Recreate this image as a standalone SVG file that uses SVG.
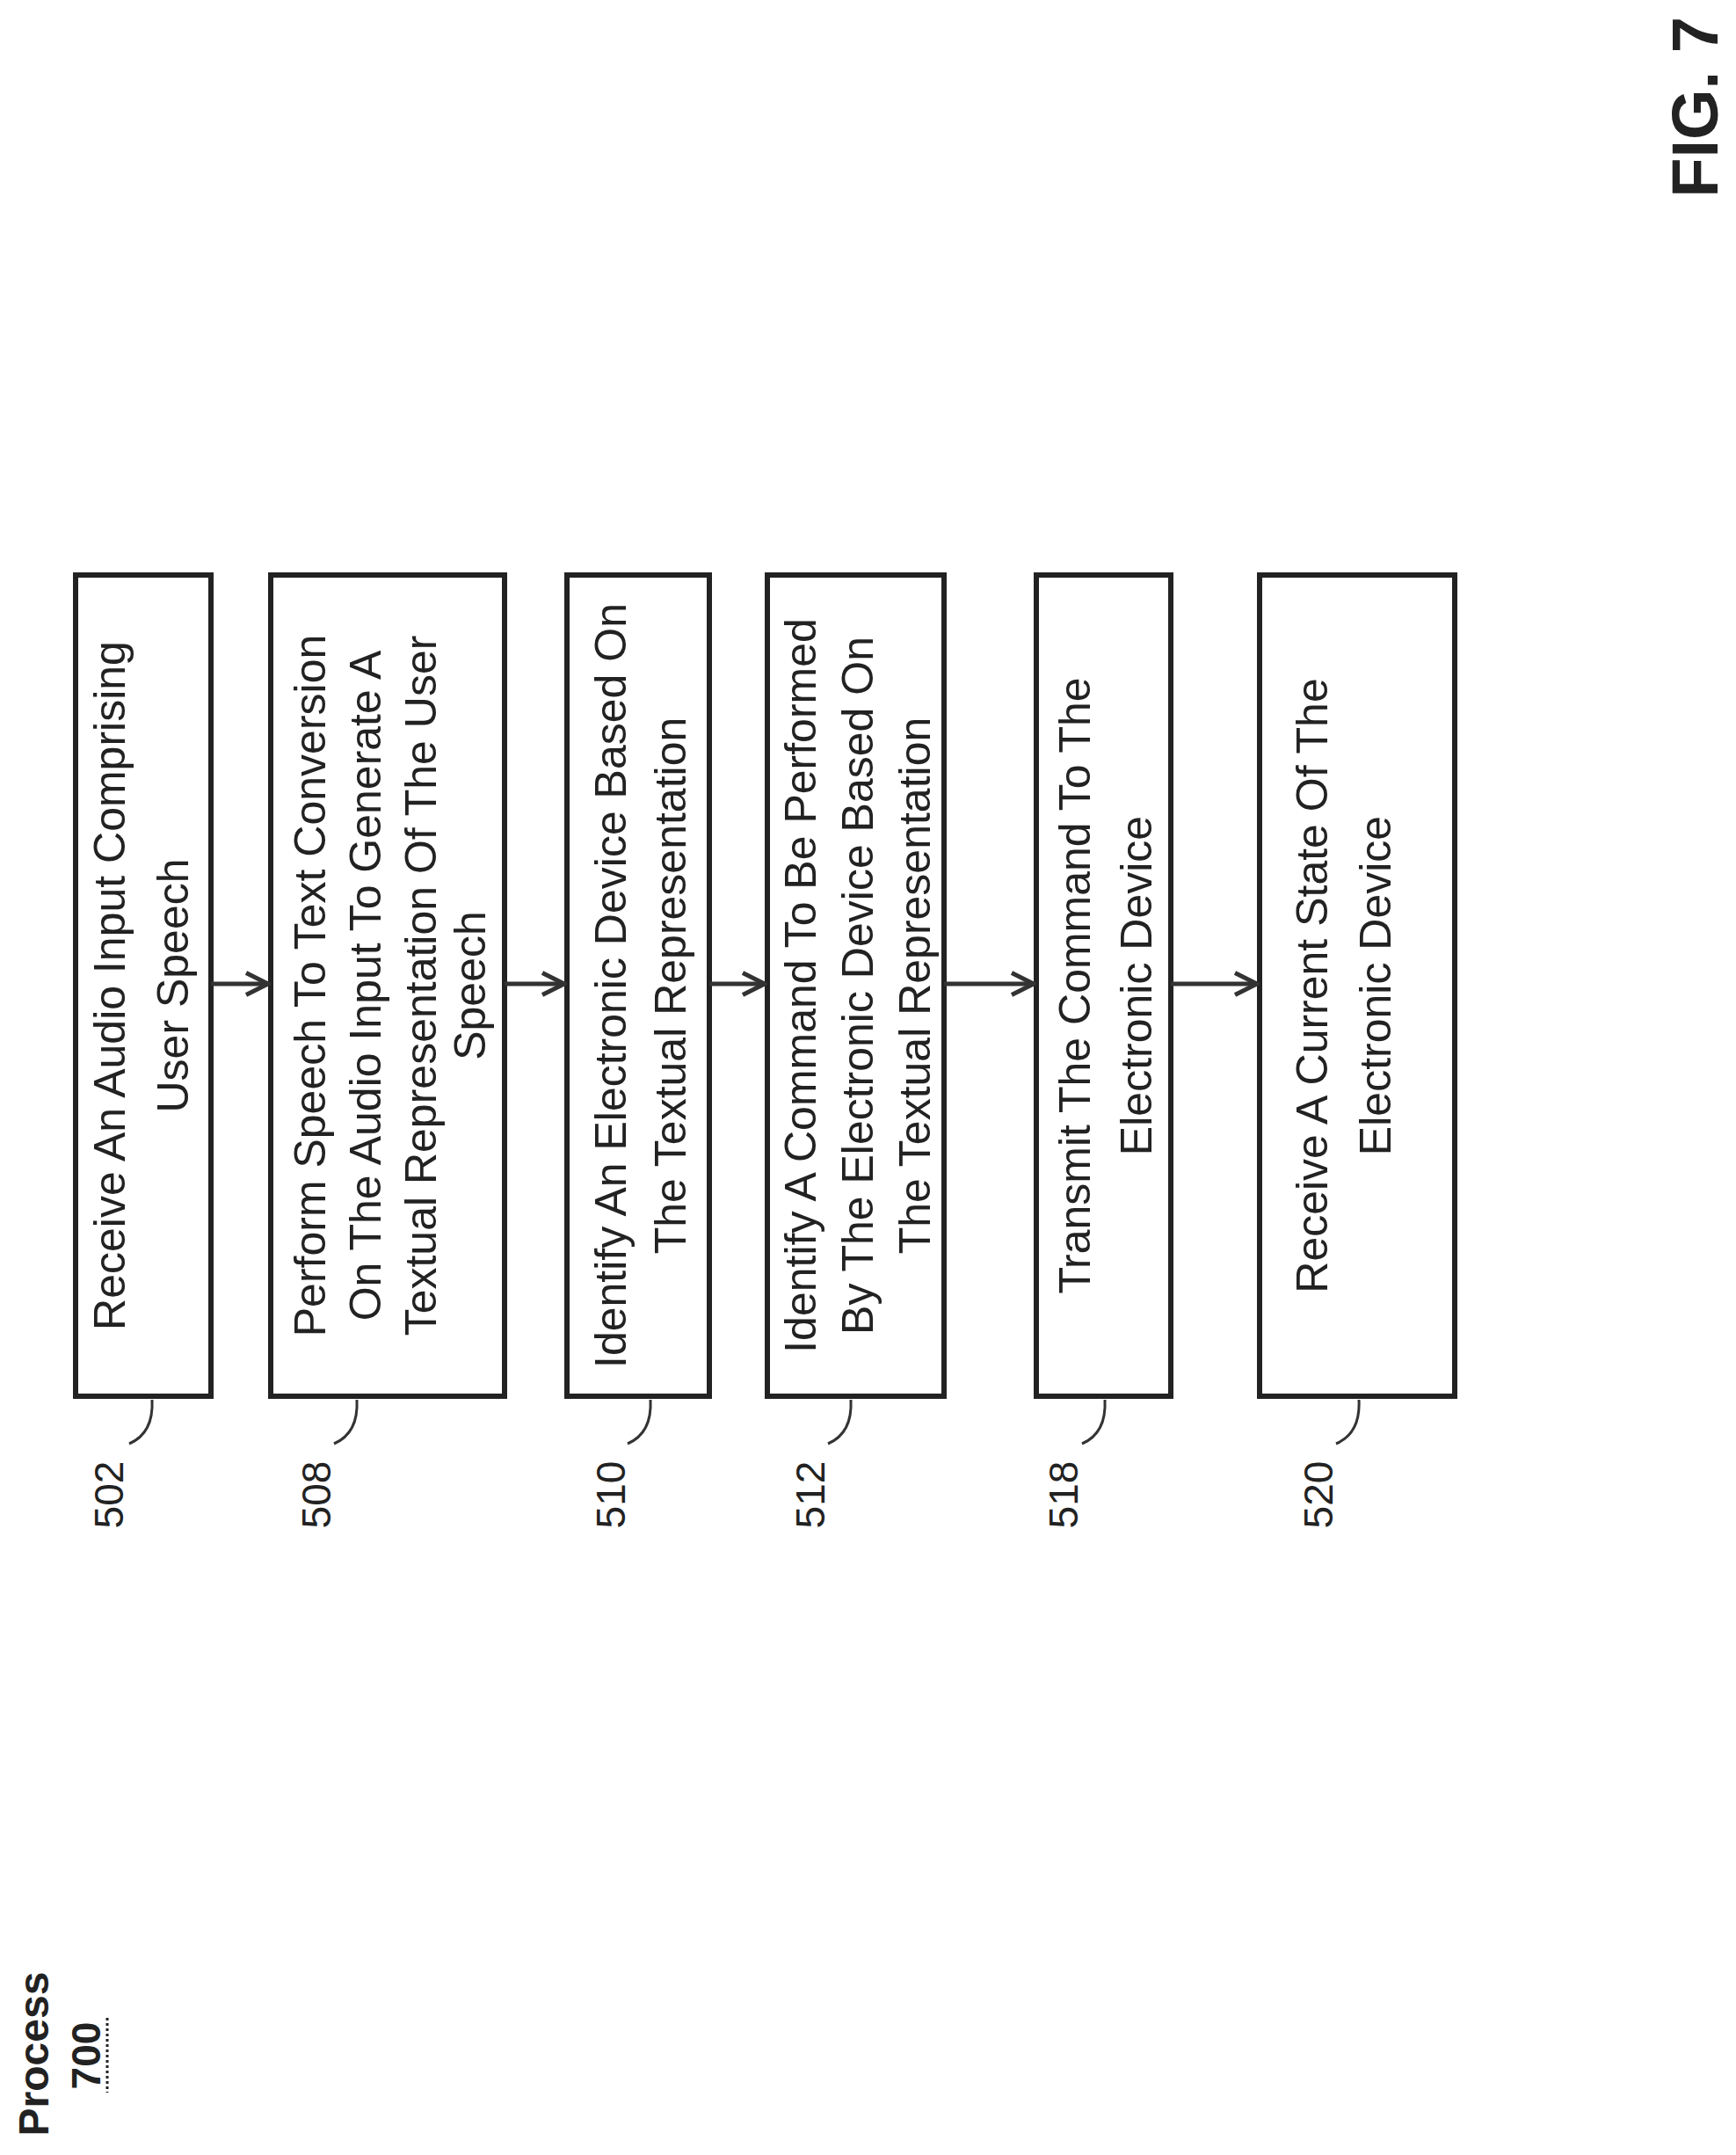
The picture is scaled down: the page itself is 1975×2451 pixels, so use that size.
<svg xmlns="http://www.w3.org/2000/svg" width="1975" height="2451" viewBox="0 0 1975 2451">
<style>
.box{fill:#fff;stroke:#222;stroke-width:6}
.t{font-family:"Liberation Sans",Arial,sans-serif;font-size:50px;fill:#222;text-anchor:middle}
.lbl{font-family:"Liberation Sans",Arial,sans-serif;font-size:46px;fill:#222;text-anchor:middle}
.c{stroke:#333;stroke-width:5;fill:none}
.ld{stroke:#333;stroke-width:3;fill:none}
</style>
<defs><marker id="a" viewBox="0 0 12 12" refX="11" refY="6" markerWidth="6" markerHeight="6" orient="auto" markerUnits="strokeWidth"><path d="M1 1 L11 6 L1 11" fill="none" stroke="#333" stroke-width="2"/></marker></defs>
<rect width="1975" height="2451" fill="#fff"/>
<g id="n502"><rect class="box" x="86" y="654" width="154" height="934"/>
<text class="t" transform="translate(142,1121) rotate(-90)">Receive An Audio Input Comprising</text>
<text class="t" transform="translate(214,1121) rotate(-90)">User Speech</text>
<path class="ld" d="M173 1592 q2 38 -26 50"/><text class="lbl" transform="translate(140,1700) rotate(-90)">502</text></g>
<g id="n508"><rect class="box" x="308" y="654" width="266" height="934"/>
<text class="t" transform="translate(370,1121) rotate(-90)">Perform Speech To Text Conversion</text>
<text class="t" transform="translate(433,1121) rotate(-90)">On The Audio Input To Generate A</text>
<text class="t" transform="translate(496,1121) rotate(-90)">Textual Representation Of The User</text>
<text class="t" transform="translate(552,1121) rotate(-90)">Speech</text>
<path class="ld" d="M406 1592 q2 38 -26 50"/><text class="lbl" transform="translate(376,1700) rotate(-90)">508</text></g>
<g id="n510"><rect class="box" x="645" y="654" width="162" height="934"/>
<text class="t" transform="translate(712,1121) rotate(-90)">Identify An Electronic Device Based On</text>
<text class="t" transform="translate(780,1121) rotate(-90)">The Textual Representation</text>
<path class="ld" d="M740 1592 q2 38 -26 50"/><text class="lbl" transform="translate(711,1700) rotate(-90)">510</text></g>
<g id="n512"><rect class="box" x="873" y="654" width="201" height="934"/>
<text class="t" transform="translate(928,1121) rotate(-90)">Identify A Command To Be Performed</text>
<text class="t" transform="translate(993,1121) rotate(-90)">By The Electronic Device Based On</text>
<text class="t" transform="translate(1058,1121) rotate(-90)">The Textual Representation</text>
<path class="ld" d="M968 1592 q2 38 -26 50"/><text class="lbl" transform="translate(938,1700) rotate(-90)">512</text></g>
<g id="n518"><rect class="box" x="1179" y="654" width="153" height="934"/>
<text class="t" transform="translate(1240,1121) rotate(-90)">Transmit The Command To The</text>
<text class="t" transform="translate(1310,1121) rotate(-90)">Electronic Device</text>
<path class="ld" d="M1257 1592 q2 38 -26 50"/><text class="lbl" transform="translate(1226,1700) rotate(-90)">518</text></g>
<g id="n520"><rect class="box" x="1433" y="654" width="222" height="934"/>
<text class="t" transform="translate(1510,1121) rotate(-90)">Receive A Current State Of The</text>
<text class="t" transform="translate(1582,1121) rotate(-90)">Electronic Device</text>
<path class="ld" d="M1546 1592 q2 38 -26 50"/><text class="lbl" transform="translate(1516,1700) rotate(-90)">520</text></g>
<g id="connectors">
<line class="c" x1="240" y1="1119" x2="305" y2="1119" marker-end="url(#a)"/>
<line class="c" x1="574" y1="1119" x2="642" y2="1119" marker-end="url(#a)"/>
<line class="c" x1="807" y1="1119" x2="870" y2="1119" marker-end="url(#a)"/>
<line class="c" x1="1074" y1="1119" x2="1176" y2="1119" marker-end="url(#a)"/>
<line class="c" x1="1332" y1="1119" x2="1430" y2="1119" marker-end="url(#a)"/>
</g>
<g id="title">
<text transform="translate(55,2336) rotate(-90)" font-family="Liberation Sans,Arial,sans-serif" font-weight="bold" font-size="48" text-anchor="middle" fill="#222">Process</text>
<text transform="translate(114,2338) rotate(-90)" font-family="Liberation Sans,Arial,sans-serif" font-weight="bold" font-size="46" text-anchor="middle" fill="#222">700</text>
<line x1="122" y1="2295" x2="122" y2="2380" stroke="#222" stroke-width="3" stroke-dasharray="3 3"/>
<text transform="translate(1954,122) rotate(-90)" font-family="Liberation Sans,Arial,sans-serif" font-weight="bold" font-size="74" text-anchor="middle" fill="#222">FIG. 7</text>
</g>
</svg>
